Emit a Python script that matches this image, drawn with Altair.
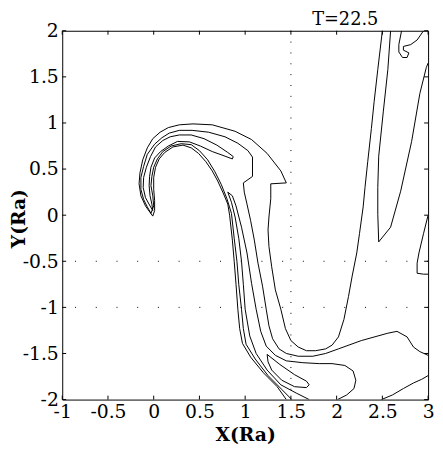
import altair as alt
import pandas as pd

# ---- contour lines (data units) ----
OUTER = [(2.50,2.00),(2.45,1.58),(2.41,1.23),(2.38,0.94),(2.34,0.58),(2.31,0.30),(2.29,0.09),(2.25,-0.20),
         (2.22,-0.41),(2.17,-0.66),(2.13,-0.88),(2.08,-1.13),(2.02,-1.32),(1.95,-1.41),(1.88,-1.45),(1.77,-1.47),
         (1.67,-1.47),(1.58,-1.43),(1.50,-1.36),(1.44,-1.23),(1.39,-1.02),(1.33,-0.81),(1.29,-0.56),(1.26,-0.34),
         (1.25,-0.16),(1.26,-0.02),(1.28,0.18),(1.28,0.34),(1.45,0.35),(1.39,0.48),(1.24,0.67),(1.07,0.82),
         (0.89,0.91),(0.64,0.98),(0.43,0.99),(0.28,0.98),(0.16,0.95),(0.07,0.90),(-0.01,0.83),(-0.07,0.73),
         (-0.12,0.60),(-0.15,0.46),(-0.16,0.34),(-0.14,0.21),(-0.09,0.10),(-0.04,0.03),(-0.01,-0.01),(0.01,0.05),
         (0.01,0.16),(0.00,0.28),(0.00,0.41),(0.02,0.52),(0.06,0.61),(0.12,0.68),(0.21,0.74),(0.32,0.76),
         (0.41,0.73),(0.49,0.67),(0.57,0.58),(0.64,0.48),(0.70,0.37),(0.76,0.24),(0.81,0.12),(0.83,0.00),
         (0.86,-0.27),(0.88,-0.50),(0.90,-0.75),(0.92,-1.02),(0.94,-1.23),(0.97,-1.39),(1.06,-1.54),(1.20,-1.71),
         (1.35,-1.86),(1.45,-2.00)]

SECOND = [(3.00,-1.52),(2.91,-1.48),(2.84,-1.43),(2.77,-1.32),(2.66,-1.26),(2.56,-1.28),(2.27,-1.36),(2.02,-1.45),
          (1.88,-1.50),(1.74,-1.53),(1.58,-1.53),(1.45,-1.50),(1.37,-1.45),(1.30,-1.34),(1.26,-1.20),(1.23,-1.02),
          (1.19,-0.77),(1.14,-0.52),(1.10,-0.27),(1.06,-0.06),(1.02,0.12),(0.99,0.25),(0.98,0.35),(1.08,0.42),
          (1.08,0.63),(1.03,0.70),(0.92,0.78),(0.78,0.85),(0.60,0.90),(0.42,0.92),(0.28,0.92),(0.17,0.89),
          (0.09,0.84),(0.01,0.77),(-0.07,0.66),(-0.11,0.53),(-0.14,0.41),(-0.14,0.28),(-0.11,0.17),(-0.07,0.09),
          (-0.03,0.02),(0.00,0.10),(-0.01,0.21),(-0.03,0.32),(-0.02,0.42),(0.00,0.52),(0.04,0.61),(0.10,0.69),
          (0.19,0.75),(0.30,0.775),(0.41,0.765),(0.50,0.70),(0.59,0.60),(0.67,0.47),(0.74,0.33),(0.80,0.18),
          (0.85,0.02),(0.88,-0.25),(0.91,-0.50),(0.93,-0.75),(0.96,-1.02),(0.98,-1.23),(1.01,-1.40),(1.11,-1.56),
          (1.25,-1.74),(1.40,-1.89),(1.51,-2.00)]

THIRD = [(1.70,-2.00),(1.56,-1.93),(1.39,-1.84),(1.24,-1.68),(1.12,-1.50),(1.05,-1.31),(1.00,-1.02),(0.98,-0.75),
         (0.96,-0.50),(0.93,-0.25),(0.89,-0.02),(0.85,0.14),(0.81,0.25),(0.86,0.21),(0.90,0.10),(0.96,-0.13),
         (1.02,-0.41),(1.07,-0.74),(1.12,-1.02),(1.17,-1.26),(1.23,-1.42),(1.33,-1.52),(1.45,-1.58),(1.63,-1.60),
         (1.81,-1.61),(1.95,-1.61),(2.09,-1.63),(2.18,-1.69),(2.21,-1.79),(2.19,-1.88),(2.11,-1.95),(2.01,-2.00)]

TONGUE_LOW = [(1.24,-1.51),(1.38,-1.62),(1.54,-1.73),(1.67,-1.80),(1.70,-1.84),(1.67,-1.87),(1.54,-1.86),
              (1.40,-1.79),(1.29,-1.68),(1.25,-1.59),(1.24,-1.51)]

TONGUE_TOP = [(0.87,0.635),(0.81,0.68),(0.69,0.76),(0.55,0.83),(0.41,0.87),(0.28,0.87),(0.18,0.85),(0.10,0.81),
              (0.02,0.74),(-0.035,0.635),(-0.08,0.52),(-0.11,0.41),(-0.115,0.30),(-0.09,0.19),(-0.04,0.10),
              (-0.01,0.05),(-0.02,0.12),(-0.04,0.21),(-0.05,0.32),(-0.045,0.42),(-0.03,0.52),(0.01,0.62),
              (0.075,0.69),(0.16,0.75),(0.26,0.80),(0.39,0.795),(0.51,0.75),(0.64,0.69),(0.78,0.64),(0.86,0.61),
              (0.87,0.635)]

V_SHAPE = [(2.59,2.00),(2.56,1.58),(2.51,1.12),(2.46,0.64),(2.45,0.30),(2.45,0.01),(2.46,-0.29),(2.59,-0.13),
           (2.70,0.26),(2.82,0.80),(2.91,1.32),(2.98,1.60),(3.00,1.65)]

LOOP_TR = [(2.71,2.00),(2.68,1.85),(2.68,1.77),(2.72,1.71),(2.77,1.71),(2.79,1.76),(2.73,1.79),(2.73,1.83),
           (2.81,1.85),(2.88,1.90),(2.95,2.00)]

EDGE_R = [(3.00,0.00),(2.95,-0.20),(2.90,-0.41),(2.88,-0.52),(2.88,-0.63),(2.95,-0.64),(3.00,-0.64)]

BOTTOM_R = [(2.49,-2.00),(2.61,-1.95),(2.73,-1.88),(2.84,-1.82),(2.93,-1.78),(3.00,-1.74)]

X_TICKS = [-1, -0.5, 0, 0.5, 1, 1.5, 2, 2.5, 3]
Y_TICKS = [-2, -1.5, -1, -0.5, 0, 0.5, 1, 1.5, 2]
GRID_X = [1.5]
GRID_Y = [-0.5, -1.0]
TITLE = "T=22.5"

lines = {"outer": OUTER, "second": SECOND, "third": THIRD, "tongue_low": TONGUE_LOW,
         "tongue_top": TONGUE_TOP, "v": V_SHAPE, "loop": LOOP_TR, "edge": EDGE_R, "bottom": BOTTOM_R}
rows = []
for name, pts in lines.items():
    for i, (x, y) in enumerate(pts):
        rows.append({"line": name, "i": i, "x": x, "y": y})
df = pd.DataFrame(rows)

FONT = "DejaVu Serif"
xs = alt.Scale(domain=[-1, 3], nice=False, zero=False)
ys = alt.Scale(domain=[-2, 2], nice=False, zero=False)

ax_x = alt.Axis(values=X_TICKS, labelExpr="'' + datum.value", ticks=False, domain=False, grid=False,
                labelFont=FONT, labelFontSize=19, labelColor="black", labelPadding=3,
                labelFlush=False, labelOverlap=False,
                title="X(Ra)", titleFont=FONT, titleFontSize=19, titleFontWeight="bold", titleColor="black",
                titleY=41, titleBaseline="alphabetic")
ax_y = alt.Axis(values=Y_TICKS, labelExpr="'' + datum.value", ticks=False, domain=False, grid=False,
                labelFont=FONT, labelFontSize=19, labelColor="black", labelPadding=4,
                labelFlush=False, labelOverlap=False,
                title="Y(Ra)", titleFont=FONT, titleFontSize=19, titleFontWeight="bold", titleColor="black",
                titleAngle=270, titleX=-38, titleY=190, titleBaseline="alphabetic", titleAlign="center")

XE = alt.X("x:Q", scale=xs, axis=ax_x)
YE = alt.Y("y:Q", scale=ys, axis=ax_y)

W, H = 371, 374

contours = alt.Chart(df).mark_line(color="black", strokeWidth=1, clip=True).encode(
    x=XE, y=YE, detail="line:N", order=alt.Order("i:Q"))

gx = alt.Chart(pd.DataFrame({"x": GRID_X})).mark_rule(color="black", strokeWidth=1, strokeDash=[1, 10]).encode(x=XE)
gy = alt.Chart(pd.DataFrame({"y": GRID_Y})).mark_rule(color="black", strokeWidth=1, strokeDash=[1, 20]).encode(y=YE)

tx = pd.DataFrame({"x": X_TICKS})
ty = pd.DataFrame({"y": Y_TICKS})
t_bottom = alt.Chart(tx).mark_rule(color="black").encode(x=XE, y=alt.value(H), y2=alt.value(H - 4))
t_top = alt.Chart(tx).mark_rule(color="black").encode(x=XE, y=alt.value(0), y2=alt.value(4))
t_left = alt.Chart(ty).mark_rule(color="black").encode(y=YE, x=alt.value(0), x2=alt.value(4))
t_right = alt.Chart(ty).mark_rule(color="black").encode(y=YE, x=alt.value(W), x2=alt.value(W - 4))

title = alt.Chart(pd.DataFrame({"t": [TITLE]})).mark_text(
    font=FONT, fontSize=18, color="black", align="center", baseline="alphabetic").encode(
    text="t:N", x=alt.value(287), y=alt.value(-6))

chart = alt.layer(gx, gy, contours, t_bottom, t_top, t_left, t_right, title).properties(
    width=W, height=H,
    padding={"left": 55, "top": 20, "right": 7, "bottom": 45},
    autosize=alt.AutoSizeParams(type="none"),
    background="white",
).configure_view(stroke="black", strokeWidth=1)

chart.save("out.html", embed_options={"renderer": "svg", "actions": False})
